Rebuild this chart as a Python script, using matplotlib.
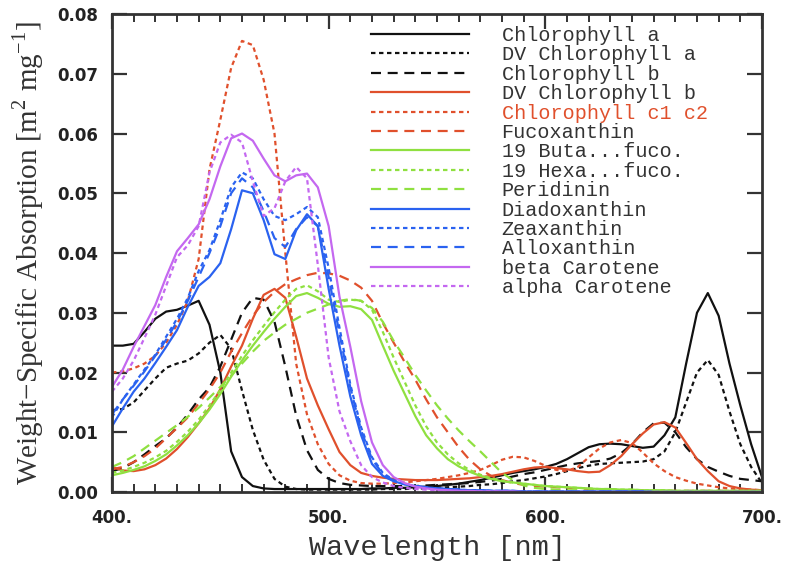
import numpy as np
import matplotlib
matplotlib.use("Agg")
import matplotlib.pyplot as plt
from matplotlib.ticker import MultipleLocator, FormatStrFormatter

plt.rcParams['mathtext.fontset'] = 'custom'
plt.rcParams['mathtext.rm'] = 'Liberation Serif'

# wavelength grid (nm), 5 nm steps from 400 to 700
wl = np.arange(400, 705, 5)

# weight-specific absorption, rows of 10 values (400-445, 450-495, ...)
chl_a = [0.0245, 0.0245, 0.0248, 0.0268, 0.0290, 0.0302, 0.0305, 0.0312, 0.0320, 0.0280,
         0.0200, 0.0068, 0.0025, 0.0010, 0.0006, 0.0005, 0.0005, 0.0005, 0.0005, 0.0005,
         0.0005, 0.0005, 0.0005, 0.0005, 0.0006, 0.0006, 0.0007, 0.0007, 0.0008, 0.0009,
         0.0010, 0.0012, 0.0014, 0.0017, 0.0020, 0.0024, 0.0028, 0.0032, 0.0035, 0.0038,
         0.0042, 0.0047, 0.0055, 0.0065, 0.0075, 0.0080, 0.0081, 0.0080, 0.0077, 0.0074,
         0.0076, 0.0095, 0.0125, 0.0215, 0.0300, 0.0333, 0.0295, 0.0215, 0.0145, 0.0080,
         0.0025]
dv_chl_a = [0.0137, 0.0139, 0.0150, 0.0170, 0.0190, 0.0208, 0.0215, 0.0220, 0.0232, 0.0250,
            0.0263, 0.0240, 0.0170, 0.0104, 0.0054, 0.0022, 0.0009, 0.0005, 0.0004, 0.0004,
            0.0004, 0.0004, 0.0004, 0.0004, 0.0004, 0.0005, 0.0005, 0.0005, 0.0006, 0.0006,
            0.0007, 0.0008, 0.0009, 0.0010, 0.0012, 0.0013, 0.0015, 0.0018, 0.0020, 0.0023,
            0.0026, 0.0030, 0.0035, 0.0040, 0.0044, 0.0047, 0.0048, 0.0049, 0.0050, 0.0051,
            0.0055, 0.0068, 0.0100, 0.0150, 0.0200, 0.0221, 0.0196, 0.0135, 0.0080, 0.0042,
            0.0015]
chl_b = [0.0035, 0.0040, 0.0050, 0.0063, 0.0077, 0.0090, 0.0108, 0.0130, 0.0155, 0.0175,
         0.0210, 0.0255, 0.0300, 0.0325, 0.0322, 0.0285, 0.0210, 0.0128, 0.0070, 0.0037,
         0.0022, 0.0015, 0.0012, 0.0011, 0.0010, 0.0010, 0.0010, 0.0010, 0.0010, 0.0011,
         0.0012, 0.0013, 0.0014, 0.0015, 0.0017, 0.0019, 0.0022, 0.0026, 0.0030, 0.0033,
         0.0037, 0.0041, 0.0045, 0.0048, 0.0050, 0.0052, 0.0056, 0.0065, 0.0080, 0.0100,
         0.0115, 0.0116, 0.0100, 0.0075, 0.0055, 0.0042, 0.0034, 0.0027, 0.0022, 0.0020,
         0.0018]
dv_chl_b = [0.0042, 0.0036, 0.0035, 0.0038, 0.0045, 0.0056, 0.0072, 0.0092, 0.0115, 0.0140,
            0.0172, 0.0210, 0.0245, 0.0290, 0.0330, 0.0340, 0.0325, 0.0260, 0.0190, 0.0145,
            0.0105, 0.0067, 0.0045, 0.0032, 0.0027, 0.0024, 0.0022, 0.0021, 0.0020, 0.0020,
            0.0020, 0.0021, 0.0022, 0.0023, 0.0025, 0.0027, 0.0030, 0.0034, 0.0038, 0.0041,
            0.0042, 0.0040, 0.0038, 0.0035, 0.0033, 0.0034, 0.0045, 0.0060, 0.0080, 0.0098,
            0.0113, 0.0117, 0.0108, 0.0082, 0.0055, 0.0035, 0.0018, 0.0010, 0.0006, 0.0004,
            0.0003]
chl_c = [0.0200, 0.0202, 0.0207, 0.0215, 0.0228, 0.0250, 0.0280, 0.0320, 0.0390, 0.0540,
         0.0623, 0.0710, 0.0755, 0.0748, 0.0690, 0.0600, 0.0400, 0.0215, 0.0130, 0.0080,
         0.0047, 0.0028, 0.0019, 0.0015, 0.0014, 0.0014, 0.0015, 0.0016, 0.0018, 0.0020,
         0.0022, 0.0025, 0.0028, 0.0032, 0.0037, 0.0045, 0.0054, 0.0059, 0.0058, 0.0052,
         0.0044, 0.0037, 0.0035, 0.0042, 0.0058, 0.0073, 0.0083, 0.0087, 0.0082, 0.0066,
         0.0048, 0.0035, 0.0025, 0.0019, 0.0014, 0.0011, 0.0008, 0.0006, 0.0005, 0.0004,
         0.0003]
fuco = [0.0038, 0.0042, 0.0050, 0.0060, 0.0073, 0.0090, 0.0107, 0.0125, 0.0148, 0.0172,
        0.0200, 0.0235, 0.0266, 0.0295, 0.0318, 0.0335, 0.0348, 0.0356, 0.0363, 0.0367,
        0.0366, 0.0362, 0.0354, 0.0342, 0.0320, 0.0283, 0.0250, 0.0218, 0.0188, 0.0155,
        0.0125, 0.0100, 0.0075, 0.0054, 0.0038, 0.0027, 0.0020, 0.0015, 0.0012, 0.0010,
        0.0009, 0.0008, 0.0007, 0.0006, 0.0005, 0.0004, 0.0004, 0.0003, 0.0003, 0.0003,
        0.0002, 0.0002, 0.0002, 0.0002, 0.0002, 0.0002, 0.0002, 0.0002, 0.0002, 0.0002,
        0.0002]
buta = [0.0028, 0.0032, 0.0037, 0.0043, 0.0052, 0.0063, 0.0078, 0.0095, 0.0115, 0.0138,
        0.0164, 0.0193, 0.0220, 0.0245, 0.0268, 0.0290, 0.0310, 0.0328, 0.0333, 0.0325,
        0.0315, 0.0310, 0.0311, 0.0306, 0.0288, 0.0245, 0.0203, 0.0165, 0.0127, 0.0095,
        0.0073, 0.0055, 0.0043, 0.0034, 0.0027, 0.0022, 0.0018, 0.0016, 0.0014, 0.0012,
        0.0010, 0.0009, 0.0008, 0.0007, 0.0006, 0.0005, 0.0005, 0.0004, 0.0004, 0.0003,
        0.0003, 0.0003, 0.0002, 0.0002, 0.0002, 0.0002, 0.0002, 0.0002, 0.0002, 0.0002,
        0.0002]
hexa = [0.0032, 0.0036, 0.0042, 0.0049, 0.0058, 0.0069, 0.0084, 0.0101, 0.0121, 0.0145,
        0.0171, 0.0200, 0.0228, 0.0254, 0.0278, 0.0301, 0.0322, 0.0340, 0.0346, 0.0336,
        0.0322, 0.0318, 0.0322, 0.0320, 0.0305, 0.0268, 0.0225, 0.0185, 0.0145, 0.0110,
        0.0083, 0.0063, 0.0048, 0.0037, 0.0029, 0.0023, 0.0019, 0.0016, 0.0014, 0.0012,
        0.0010, 0.0009, 0.0008, 0.0007, 0.0006, 0.0005, 0.0005, 0.0004, 0.0004, 0.0003,
        0.0003, 0.0003, 0.0002, 0.0002, 0.0002, 0.0002, 0.0002, 0.0002, 0.0002, 0.0002,
        0.0002]
peri = [0.0042, 0.0050, 0.0060, 0.0073, 0.0086, 0.0099, 0.0112, 0.0126, 0.0141, 0.0158,
        0.0176, 0.0195, 0.0215, 0.0235, 0.0253, 0.0267, 0.0280, 0.0290, 0.0300, 0.0307,
        0.0314, 0.0320, 0.0323, 0.0320, 0.0308, 0.0285, 0.0253, 0.0225, 0.0196, 0.0170,
        0.0145, 0.0123, 0.0103, 0.0085, 0.0068, 0.0050, 0.0032, 0.0020, 0.0011, 0.0007,
        0.0005, 0.0004, 0.0003, 0.0003, 0.0002, 0.0002, 0.0002, 0.0002, 0.0001, 0.0001,
        0.0001, 0.0001, 0.0001, 0.0001, 0.0001, 0.0001, 0.0001, 0.0001, 0.0001, 0.0001,
        0.0001]
diadino = [0.0110, 0.0140, 0.0168, 0.0190, 0.0216, 0.0243, 0.0271, 0.0310, 0.0345, 0.0360,
           0.0383, 0.0440, 0.0505, 0.0500, 0.0455, 0.0398, 0.0390, 0.0438, 0.0465, 0.0445,
           0.0340, 0.0245, 0.0160, 0.0095, 0.0047, 0.0027, 0.0018, 0.0013, 0.0010, 0.0008,
           0.0006, 0.0005, 0.0004, 0.0003, 0.0003, 0.0002, 0.0002, 0.0002, 0.0001, 0.0001,
           0.0001, 0.0001, 0.0001, 0.0001, 0.0001, 0.0001, 0.0001, 0.0001, 0.0001, 0.0001,
           0.0000, 0.0000, 0.0000, 0.0000, 0.0000, 0.0000, 0.0000, 0.0000, 0.0000, 0.0000,
           0.0000]
zea = [0.0125, 0.0155, 0.0180, 0.0205, 0.0230, 0.0260, 0.0290, 0.0325, 0.0370, 0.0405,
       0.0455, 0.0510, 0.0535, 0.0525, 0.0490, 0.0462, 0.0455, 0.0465, 0.0477, 0.0460,
       0.0375, 0.0275, 0.0180, 0.0108, 0.0058, 0.0032, 0.0020, 0.0014, 0.0010, 0.0008,
       0.0006, 0.0005, 0.0004, 0.0003, 0.0003, 0.0002, 0.0002, 0.0002, 0.0001, 0.0001,
       0.0001, 0.0001, 0.0001, 0.0001, 0.0001, 0.0001, 0.0001, 0.0001, 0.0001, 0.0001,
       0.0000, 0.0000, 0.0000, 0.0000, 0.0000, 0.0000, 0.0000, 0.0000, 0.0000, 0.0000,
       0.0000]
allo = [0.0130, 0.0155, 0.0178, 0.0202, 0.0228, 0.0255, 0.0285, 0.0320, 0.0360, 0.0400,
        0.0445, 0.0500, 0.0525, 0.0510, 0.0470, 0.0425, 0.0410, 0.0440, 0.0460, 0.0445,
        0.0360, 0.0265, 0.0175, 0.0103, 0.0055, 0.0030, 0.0019, 0.0013, 0.0010, 0.0008,
        0.0006, 0.0005, 0.0004, 0.0003, 0.0003, 0.0002, 0.0002, 0.0002, 0.0001, 0.0001,
        0.0001, 0.0001, 0.0001, 0.0001, 0.0001, 0.0001, 0.0001, 0.0001, 0.0001, 0.0001,
        0.0000, 0.0000, 0.0000, 0.0000, 0.0000, 0.0000, 0.0000, 0.0000, 0.0000, 0.0000,
        0.0000]
b_car = [0.0176, 0.0205, 0.0243, 0.0278, 0.0313, 0.0360, 0.0403, 0.0425, 0.0448, 0.0490,
         0.0545, 0.0592, 0.0600, 0.0588, 0.0558, 0.0530, 0.0520, 0.0530, 0.0533, 0.0510,
         0.0445, 0.0327, 0.0243, 0.0152, 0.0083, 0.0045, 0.0025, 0.0015, 0.0009, 0.0006,
         0.0004, 0.0003, 0.0002, 0.0002, 0.0001, 0.0001, 0.0001, 0.0001, 0.0000, 0.0000,
         0.0000, 0.0000, 0.0000, 0.0000, 0.0000, 0.0000, 0.0000, 0.0000, 0.0000, 0.0000,
         0.0000, 0.0000, 0.0000, 0.0000, 0.0000, 0.0000, 0.0000, 0.0000, 0.0000, 0.0000,
         0.0000]
a_car = [0.0168, 0.0190, 0.0220, 0.0258, 0.0297, 0.0345, 0.0393, 0.0413, 0.0445, 0.0535,
         0.0585, 0.0598, 0.0585, 0.0520, 0.0462, 0.0475, 0.0520, 0.0544, 0.0525, 0.0380,
         0.0225, 0.0135, 0.0085, 0.0045, 0.0025, 0.0016, 0.0010, 0.0007, 0.0005, 0.0004,
         0.0003, 0.0002, 0.0002, 0.0001, 0.0001, 0.0001, 0.0000, 0.0000, 0.0000, 0.0000,
         0.0000, 0.0000, 0.0000, 0.0000, 0.0000, 0.0000, 0.0000, 0.0000, 0.0000, 0.0000,
         0.0000, 0.0000, 0.0000, 0.0000, 0.0000, 0.0000, 0.0000, 0.0000, 0.0000, 0.0000,
         0.0000]

names = ["Chlorophyll a", "DV Chlorophyll a", "Chlorophyll b", "DV Chlorophyll b",
         "Chlorophyll c1 c2", "Fucoxanthin", "19 Buta...fuco.", "19 Hexa...fuco.",
         "Peridinin", "Diadoxanthin", "Zeaxanthin", "Alloxanthin",
         "beta Carotene", "alpha Carotene"]
series = [chl_a, dv_chl_a, chl_b, dv_chl_b, chl_c, fuco, buta, hexa, peri,
          diadino, zea, allo, b_car, a_car]

black, red, green, blue, violet = "#111111", "#e0502c", "#8fe040", "#2a62f0", "#c468f0"
colors = [black] * 3 + [red] * 3 + [green] * 3 + [blue] * 3 + [violet] * 2
solid, dotted, dashed = "-", (0, (2.0, 1.6)), (0, (4.5, 3.0))
styles = [solid, dotted, dashed] * 4 + [solid, dotted]

fig = plt.figure(figsize=(7.92, 5.66), dpi=100)
ax = fig.add_axes([0.1414, 0.1307, 0.8207, 0.8445])

for name, vals, c, ls in zip(names, series, colors, styles):
    ax.plot(wl, vals, color=c, linestyle=ls, linewidth=1.6, label=name)

ax.set_xlim(400, 700)
ax.set_ylim(0, 0.08)
ax.xaxis.set_major_locator(MultipleLocator(100))
ax.xaxis.set_minor_locator(MultipleLocator(10))
ax.yaxis.set_major_locator(MultipleLocator(0.01))
ax.xaxis.set_major_formatter(FormatStrFormatter('%d.'))
ax.yaxis.set_major_formatter(FormatStrFormatter('%.2f'))
ax.tick_params(which='both', direction='in', top=True, right=True, color='#333333')
ax.tick_params(which='major', length=11, width=1.6, pad=10)
ax.tick_params(which='minor', length=6, width=1.4)
ax.tick_params(axis='x', which='major', pad=12)
for lab in ax.get_xticklabels() + ax.get_yticklabels():
    lab.set_fontfamily('DejaVu Sans')
    lab.set_fontweight('bold')
    lab.set_fontsize(12)
    lab.set_color('#222222')
for sp in ax.spines.values():
    sp.set_linewidth(2)
    sp.set_color('#333333')

ax.set_xlabel("Wavelength [nm]", fontfamily='Liberation Mono', fontsize=20.5,
              color='#333333', labelpad=6)
ax.set_ylabel(r"Weight$-$Specific Absorption [m$^{2}$ mg$^{-1}$]",
              fontfamily='Liberation Serif', fontsize=21, color='#333333', labelpad=8)

leg = ax.legend(loc='upper left', bbox_to_anchor=(0.398, 0.975), frameon=False,
                prop={'family': 'Liberation Mono', 'size': 14.5},
                handlelength=4.9, handletextpad=1.6, labelspacing=0.02,
                borderaxespad=0, borderpad=0)
for t in leg.get_texts():
    t.set_color('#333333')
leg.get_texts()[4].set_color(red)

fig.savefig("out.png", dpi=100)
